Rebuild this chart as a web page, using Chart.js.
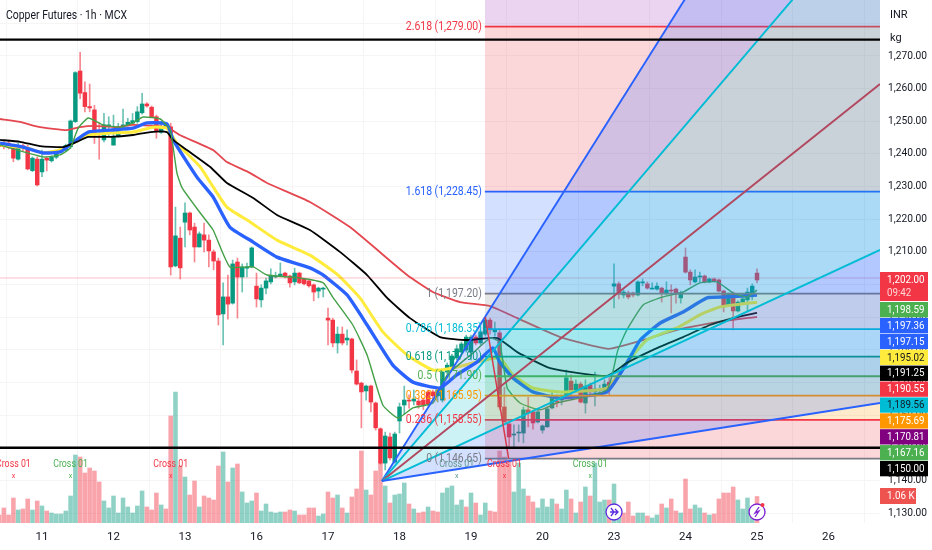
<!DOCTYPE html>
<html>
<head>
<meta charset="utf-8">
<title>Copper Futures</title>
<style>
  html, body { margin: 0; padding: 0; background: #fff; }
  canvas { display: block; filter: blur(.3px); }
</style>
<script src="https://cdn.jsdelivr.net/npm/chart.js@4"></script>
</head>
<body>
<canvas id="chart" width="932" height="550"></canvas>
<script>
// hourly bars, 15 per session
const opens = [1243.3,1243,1243.3,1242.4,1238.4,1242.5,1241.9,1234.9,1238.4,1234.5,
  1238.7,1237.9,1239,1240.6,1241.2,1242.2,1249.9,1265.4,1258.8,1254.5,
  1253.5,1246.3,1244.3,1248.6,1242.7,1245.3,1248.2,1248.9,1249.4,1249.9,
  1252.6,1255.3,1254.3,1251.4,1246.6,1248.3,1248.3,1205.7,1214.2,1219.1,
  1221.9,1217.6,1211.5,1215.2,1213.6,1210,1207.2,1191,1196.2,1194.3,
  1206.9,1202.3,1205,1205.4,1199.5,1195.3,1198.9,1200.8,1202.3,1202.6,
  1203.5,1202.6,1200.8,1203.5,1201.7,1201.1,1199.9,1198,1198.6,1189.7,
  1189.1,1182.1,1184.8,1183,1183.3,1173.5,1169.8,1167.4,1168.9,1163.7,
  1155.8,1145.3,1153.3,1145.6,1158.2,1163.1,1164.6,1164.3,1164.3,1164.6,
  1167.1,1167.1,1165.9,1164.6,1173.2,1174.7,1177.5,1179.3,1179.9,1179.3,
  1183.9,1182.1,1184.8,1189.1,1185.5,1185.2,1162.5,1157.3,1153.9,1154.5,
  1154.5,1161.6,1161,1157.9,1155.4,1156.4,1162.2,1164.3,1164.6,1166.2,
  1170.4,1167.7,1169.5,1163.7,1169.2,1167.1,1167.5,1167.7,1170.1,1199.5,
  1200.2,1196.8,1197.4,1197.4,1196.8,1200.5,1200.2,1198.6,1198.6,1198.9,
  1197.4,1198.3,1198.6,1195.9,1208.4,1203.8,1200.8,1202.3,1202.6,1200.8,
  1201.7,1201.4,1198,1193.7,1197.4,1191.9,1194.6,1195.3,1197.4,1203.5];
const highs = [1244,1243.8,1244,1243,1243.3,1243,1242.7,1239.1,1239.1,1241.2,
  1239.1,1239.4,1241.2,1241.9,1243,1250.4,1265.2,1271.1,1262.1,1261.4,
  1254.9,1249.5,1252.4,1251.4,1251.9,1249.4,1253.7,1250.9,1252.4,1254.5,
  1258.6,1255.7,1254.7,1251.9,1249.9,1249.6,1249.4,1223.7,1217.6,1225,
  1222.2,1218.8,1216.1,1218.8,1215.2,1210.6,1208.1,1200.5,1202.9,1207.5,
  1208.1,1206.3,1206.6,1211.5,1203.5,1199.9,1202,1204.8,1203.8,1206.6,
  1203.8,1202.9,1205,1203.8,1202,1201.4,1200.2,1199.2,1199.2,1192.8,
  1189.7,1187,1187,1186.1,1183.6,1176.9,1170.1,1169.2,1169.2,1164,
  1156.1,1154.8,1154.5,1154.8,1163.7,1168.9,1166.2,1167.7,1165.2,1165.2,
  1167.7,1167.7,1168.3,1173.8,1176,1178.7,1181.5,1182.4,1184.5,1184.5,
  1184.5,1186.1,1190,1189.7,1188.5,1186.1,1168.6,1157.3,1157,1157,
  1162.5,1165.5,1161.3,1161.6,1157,1162.2,1167.7,1166.2,1166.2,1173.8,
  1172.3,1170.8,1170.1,1170.8,1169.8,1173.2,1169.2,1170.8,1171.4,1206.3,
  1200.8,1198.3,1198,1197.7,1201.1,1201.7,1200.8,1200.5,1200.5,1199.2,
  1200.8,1199.9,1198.9,1198,1211.2,1204.5,1204.5,1203.8,1202.9,1202,
  1202,1201.7,1198.3,1197.4,1197.7,1195,1196.2,1198.9,1200.2,1204.8];
const lows = [1241.8,1241.5,1241.5,1237.6,1238.1,1241,1235.1,1234.6,1230.2,1233,
  1234.8,1237.5,1238.5,1240.3,1240.9,1241.7,1249.6,1256.9,1252.9,1252.9,
  1243.2,1238.4,1243.7,1245.3,1242.7,1245.1,1247.8,1248.6,1249.2,1249.4,
  1252.2,1254.3,1251.2,1244.8,1246.3,1247.9,1202.9,1205.4,1201.7,1211.5,
  1215.2,1206.9,1211.5,1210,1205.4,1204.5,1187.6,1181.5,1189.4,1194,
  1189.7,1197.7,1202.3,1205.1,1193.1,1193.1,1197.1,1200.2,1202,1202.3,
  1202,1199.2,1199.9,1200.3,1199.9,1199.2,1195,1195.9,1196.2,1181.5,
  1180.9,1179,1181.5,1181.5,1172.9,1169.2,1156.1,1164.6,1161,1155.4,
  1145,1143.2,1146.3,1145.3,1154.5,1160.3,1162.1,1163.1,1162.1,1161.6,
  1162.8,1164.6,1164,1164,1172.6,1174.4,1176.9,1179,1179.3,1176.9,
  1181.5,1181.5,1184.2,1184.8,1184.2,1161.6,1157.9,1150.2,1150.2,1151.8,
  1151.5,1156.4,1155.7,1157.6,1154.5,1156.2,1161.9,1162.5,1163.1,1165.5,
  1165.9,1167.1,1163.7,1160.6,1166.2,1162.8,1166.2,1167.1,1166.2,1192.8,
  1195.6,1195.9,1195.6,1196.2,1196.5,1199.6,1198.6,1198.6,1198.3,1194.6,
  1196.8,1191.3,1194.3,1194.3,1203.5,1199.9,1200.5,1200.8,1200.5,1200.5,
  1200.8,1197.7,1191.6,1193.4,1186.1,1191.6,1194.3,1191.9,1195.3,1200.5];
const closes = [1242.2,1242.2,1242,1238.7,1242.4,1241.7,1235.4,1238.7,1230.5,1238.4,
  1238.1,1239,1240.7,1241.5,1242.6,1250.1,1264.9,1258.6,1254.5,1254.1,
  1245.8,1245.8,1248.9,1248.9,1245.1,1248.3,1248.9,1249.7,1250.2,1252.9,
  1255.3,1254.7,1251.4,1246.8,1247.8,1248.9,1205.4,1214.9,1205.1,1221.9,
  1216.7,1211.5,1215.5,1213.6,1210.3,1207.2,1190.7,1196.2,1194,1206.3,
  1202.3,1205.4,1205.4,1211.2,1195.6,1198.9,1201.1,1202.6,1202.6,1203.2,
  1202.6,1200.5,1203.5,1200.5,1200.2,1199.6,1197.7,1198.9,1198.9,1189.1,
  1182.1,1184.8,1182.1,1183.6,1173.8,1169.5,1167.1,1168.9,1164,1156.1,
  1145.3,1153.6,1146.9,1154.2,1162.5,1164.6,1164.3,1164.9,1163.1,1163.1,
  1163.4,1165.9,1167.7,1173.2,1175.3,1178.1,1180.3,1181.8,1183.9,1183.9,
  1182.1,1185.5,1189.1,1186.1,1186.1,1162.5,1157.9,1153.3,1154.2,1154.8,
  1161.6,1160.7,1157.6,1161,1156.7,1161.9,1165.2,1164,1165.5,1171.4,
  1167.7,1169.5,1164,1168.9,1167.1,1168,1167.8,1169.5,1168.6,1200.2,
  1197.1,1197.7,1196.2,1196.8,1200.8,1200.8,1198.9,1198.9,1199.5,1197.4,
  1198.3,1198,1197.1,1197.4,1203.8,1201.4,1202.3,1202.6,1200.8,1201.7,
  1201.1,1198,1193.4,1197.1,1191.9,1194.6,1195.6,1197.7,1199.5,1201.4];
const volumes = [320,600,320,1000,520,560,960,520,880,680,
  480,400,360,360,480,1080,2720,2640,2000,2200,
  2080,1640,880,600,1080,400,1000,640,400,680,
  1280,640,520,1200,720,560,4280,5240,2280,1840,
  1120,1680,640,1080,1000,920,2280,2840,1640,2200,
  2360,1240,800,880,1200,480,760,440,400,440,
  440,520,480,320,320,600,600,280,360,1240,
  1000,1120,600,400,1040,1360,2880,1320,1120,2080,
  2400,1480,800,1120,1160,1600,760,560,400,440,
  640,480,440,1200,1400,1480,720,920,640,1200,
  800,320,800,480,440,2880,2640,2480,1240,2400,
  1360,1080,840,600,960,640,960,760,560,1320,
  960,400,840,1440,1080,2400,840,920,920,1560,
  520,400,840,280,400,400,280,200,320,760,
  600,960,480,400,1760,560,720,600,400,320,
  360,960,1200,1200,1440,920,560,1000,400,1060];
const volumeFalling = [1,1,1,1,0,1,1,0,1,0, 1,0,0,0,0,0,0,1,1,1, 1,1,0,0,0,0,0,0,0,0, 0,1,1,1,0,1,1,0,1,0,
  1,1,0,1,1,1,1,0,1,0, 1,0,0,0,1,0,0,0,0,0, 1,1,0,1,1,1,1,0,0,1, 1,0,1,0,1,1,1,0,1,1,
  1,0,1,0,0,0,1,0,1,1, 0,1,1,0,0,0,0,0,1,0, 1,0,0,1,1,1,1,1,0,0, 0,1,1,0,0,0,0,1,0,0,
  1,0,1,0,1,0,0,0,1,0, 0,1,1,1,0,0,1,0,0,1, 0,1,1,0,1,1,0,0,1,0, 1,1,1,1,1,0,0,0,0,1];

// moving averages, read at their bends
const greenBars = [0.2,9.2,12.8,14.9,16.6,18.7,21.8,25.4,28.1,30.2,33.8,35.9,37.3,38.4,42.2,44.9,48.4,53.3,56.2,63.1,68,70.1,74.2,77.2,80.5,83.7,86.8,91,94,99.4,103,105,106.6,109.3,113.5,117,127.5,129.8,131.7,135.1,139.3,143.5,147,150.6,154,156.9,159];
const greenVals = [1242.7,1239.1,1239.7,1241.8,1247.9,1251,1248.9,1248.2,1249.5,1251.3,1250.7,1247.3,1234.2,1229.6,1221.9,1216.7,1205.4,1205.4,1202.9,1202,1200.5,1195.9,1187.6,1178.4,1163.1,1159.1,1162.2,1163.7,1172.3,1179,1183.6,1182.4,1168.3,1163.7,1161.6,1163.7,1167.7,1179.9,1186.1,1193.7,1196.2,1197.7,1200.5,1200.8,1197.4,1196.2,1198.3];
const blueBars = [0.2,5,9.2,12.8,15.3,18.7,23.3,28.1,31,35.2,36.5,41.5,44.9,48.4,53.3,58.3,65.2,68,73,77.2,82.6,86.8,92.5,96,100.3,103.6,105,107.8,112,117.7,127.5,131.7,134.5,138.7,143.5,148.5,152.7,159];
const blueVals = [1243.3,1242.1,1240.3,1240.6,1243.3,1246.7,1247.3,1247.9,1249.5,1249.2,1244.3,1232.9,1226.8,1217.6,1213,1208.4,1205.1,1202.9,1196.8,1187.6,1175.3,1170.1,1168.3,1172.3,1176.3,1180.6,1176.3,1171.4,1167.1,1165.2,1167.1,1176,1183,1188.2,1191.6,1195.9,1196.2,1196.8];
const yellowBars = [0.2,5.9,9.2,12.8,15.5,18.7,23.3,28.1,32.3,35.2,37.3,42.2,44.9,47.8,52.6,58.3,65.2,71.1,75.7,80.5,85.6,91,95.2,100.3,105,107.8,112,117.7,127.5,131.7,135.9,142.2,147,151.2,159];
const yellowVals = [1242.7,1241.8,1240.3,1241.2,1243.3,1245.8,1246.4,1246.7,1248.2,1247.9,1243.3,1236,1229.9,1223.7,1219.2,1213.6,1209,1202.9,1195.9,1185.5,1178.4,1173.8,1174.4,1176.3,1177.5,1172.3,1168.3,1167.1,1168.3,1176,1183,1186.7,1190.7,1193.1,1194.6];
const blackBars = [0.2,4.4,8.6,13.4,16.3,18.7,23.3,28.1,31.7,35.2,36.5,39.4,44.3,47.8,53.3,58.3,65.2,71.5,77.2,81.4,86.2,92.5,98.2,104.5,108.7,115.6,127.5,131.7,137.2,143.5,149.1,154,159];
const blackVals = [1244.3,1243.7,1242.4,1242.1,1243.7,1245.2,1245.2,1245.8,1246.7,1246.7,1244.3,1241.2,1236,1231.1,1226.5,1221.3,1216.7,1210,1202.9,1195.9,1189.7,1183.9,1183,1183.6,1179.3,1174.4,1172,1176,1180,1183.9,1187.6,1189.7,1191.3];
const redBars = [0.2,4.4,8.6,14.2,17,19.7,24.7,28.1,35.2,37.9,44.9,47.8,52.6,56.2,65.2,73.6,85.6,91,96.7,103,108.7,117.7,127.8,135.1,142.2,150.6,159];
const redVals = [1250.7,1249.8,1248.2,1247.3,1248.2,1248.6,1248.2,1248.9,1248.2,1245.8,1241.2,1237.5,1234.2,1231.1,1225.3,1217.6,1202.9,1197.7,1194.6,1193.4,1189.7,1183.9,1180.3,1183,1186.1,1188.5,1190.1];

// fib retracement, bottom to top
const fibRatios = ['0','0.236','0.382','0.5','0.618','0.786','1','1.618','2.618','3.618'];
const fibPrices = [1146.65,1158.55,1165.95,1171.9,1177.9,1186.35,1197.2,1228.45,1279,1329.55];
const fibColors = ['120,123,134','242,54,69','255,152,0','76,175,80','8,153,129','0,188,212','120,123,134','41,98,255','242,54,69','156,39,176'];
const fibStartBar = 101.9;
const fibTrendBars = [102, 106.9];
const fibTrendVals = [1190, 1146.65];

// speed fan, all rays start at the same pivot
const fanPivotBar = 80.3;
const fanPivotPrice = 1139.8;
const fanEndPrices = [1382.4, 1318.7, 1261.4, 1210.6, 1163.7];
const fanColors = ['41,98,255','0,188,212','178,72,96','0,188,212','41,98,255'];

const blackLevels = [1275, 1150];
const lastPrice = 1202;

const dayTicks = ['11','12','13','16','17','18','19','20','23','24','25','26'];
const dayTickBars = [9,24,39,54,69,84,99,114,129,144,159,174];
const priceTicks = [1130,1140,1150,1160,1170,1180,1190,1200,1210,1220,1230,1240,1250,1260,1270,1280];

const crossBars = [3,15,36,96,106,124];
const crossColors = ['#f23645','#4caf50','#f23645','#5f9a92','#f23645','#4caf50'];

const tagRows = ['1,198.59','1,197.36','1,197.15','1,195.02','1,191.25','1,190.55','1,189.56','1,175.69','1,170.81','1,167.16','1,150.00'];
const tagColors = ['#4caf50','#2962ff','#2962ff','#ffeb3b','#000000','#f23645','#00bcd4','#ff9800','#800080','#4caf50','#000000'];
const tagInk = ['#fff','#fff','#fff','#131722','#fff','#fff','#131722','#fff','#fff','#fff','#fff'];

const FONT = 'Roboto, sans-serif';
const xMin = 0.19, xMax = 184.8;
const lastBar = 184.8;

const bars = opens.map((_, i) => i);
const pairs = (xs, ys) => xs.map((x, i) => ({ x, y: ys[i] }));
const rising = i => closes[i] >= opens[i];

const datasets = [];

datasets.push({
  type: 'bar', yAxisID: 'yVol', order: 40, grouped: false, barThickness: 3.9,
  data: bars.map(i => ({ x: i, y: volumes[i] })),
  backgroundColor: bars.map(i => volumeFalling[i] ? 'rgba(242,54,69,.45)' : 'rgba(8,153,129,.45)')
});
datasets.push({
  type: 'bar', order: 38, grouped: false, barThickness: 1,
  data: bars.map(i => ({ x: i, y: [lows[i], highs[i]] })),
  backgroundColor: bars.map(i => rising(i) ? 'rgba(8,153,129,.6)' : 'rgba(242,54,69,.6)')
});
datasets.push({
  type: 'bar', order: 37, grouped: false, barThickness: 3.8, minBarLength: 1,
  data: bars.map(i => ({ x: i, y: [opens[i], closes[i]] })),
  backgroundColor: bars.map(i => rising(i) ? '#089981' : '#f23645')
});

function line(xs, ys, color, width, order, extra) {
  return Object.assign({
    type: 'line', data: pairs(xs, ys), borderColor: color, borderWidth: width,
    pointRadius: 0, fill: false, tension: 0, order
  }, extra);
}

const smooth = { tension: 0.15 };
datasets.push(line(redBars, redVals, '#e4474f', 1.8, 34, smooth));
datasets.push(line(yellowBars, yellowVals, '#ffeb3b', 3, 33, smooth));
datasets.push(line(blueBars, blueVals, '#2962ff', 3.4, 32, smooth));
datasets.push(line(blackBars, blackVals, '#000000', 1.8, 31, smooth));
datasets.push(line(greenBars, greenVals, '#43a047', 1.4, 30, smooth));
datasets.push(line([xMin, xMax], [lastPrice, lastPrice], 'rgba(242,54,69,.3)', 1, 29));

// fan: blue, cyan, blue wedges
const fanFirst = datasets.length;
const fanFill = [
  { target: fanFirst + 1, color: 'rgba(41,98,255,.2)' },
  { target: fanFirst + 3, color: 'rgba(0,188,212,.2)' },
  null,
  { target: fanFirst + 4, color: 'rgba(41,98,255,.2)' },
  null
];
fanEndPrices.forEach((p, i) => {
  const f = fanFill[i];
  datasets.push(line([fanPivotBar, lastBar], [fanPivotPrice, p], `rgb(${fanColors[i]})`, 1.9, 20 - i, {
    fill: f ? { target: f.target, above: f.color, below: f.color } : false
  }));
});

// fib bands take the colour of the level above them
const fibFirst = datasets.length;
fibPrices.forEach((p, i) => {
  const next = fibColors[i + 1];
  const band = next ? `rgba(${next},.2)` : 'transparent';
  datasets.push(line([fibStartBar, lastBar], [p, p], `rgb(${fibColors[i]})`, i === fibPrices.length - 1 ? 0 : 1.8, 28 - i, {
    fill: next ? { target: fibFirst + i + 1, above: band, below: band } : false
  }));
});
datasets.push(line(fibTrendBars, fibTrendVals, '#d8394c', 1.5, 15));

blackLevels.forEach(p => {
  datasets.push(line([xMin, xMax], [p, p], '#000000', 2.4, 5));
});

const money = v => v.toLocaleString('en-US', { minimumFractionDigits: 2, maximumFractionDigits: 2 });

// the original face runs narrower than Roboto, so squeeze the width a little
function narrowText(ctx, str, x, y, squeeze) {
  ctx.fillText(str, x, y, ctx.measureText(str).width * squeeze);
}

const overlay = {
  id: 'overlay',
  afterDatasetsDraw(chart) {
    const { ctx, scales } = chart;
    ctx.save();
    ctx.textBaseline = 'middle';

    // fib labels sit left of the retracement box
    ctx.textAlign = 'right';
    ctx.font = '12px ' + FONT;
    fibRatios.forEach((r, i) => {
      if (i === fibRatios.length - 1) return;
      ctx.fillStyle = `rgb(${fibColors[i]})`;
      narrowText(ctx, `${r} (${money(fibPrices[i])})`, scales.x.getPixelForValue(fibStartBar) - 3, scales.y.getPixelForValue(fibPrices[i]), 0.87);
    });

    // cross signals
    ctx.textAlign = 'center';
    crossBars.forEach((b, i) => {
      const x = scales.x.getPixelForValue(b);
      ctx.fillStyle = crossColors[i];
      ctx.font = '11px ' + FONT;
      narrowText(ctx, 'Cross 01', x, 464, 0.8);
      ctx.font = '7px ' + FONT;
      ctx.fillText('x', x, 476);
    });

    // session markers
    [[129, '#5b2be0'], [159, '#7b1fd0']].forEach(([b, c], k) => {
      const x = scales.x.getPixelForValue(b), y = 512;
      ctx.beginPath();
      ctx.arc(x, y, 8, 0, Math.PI * 2);
      ctx.fillStyle = '#fff';
      ctx.fill();
      ctx.lineWidth = 1.3;
      ctx.strokeStyle = c;
      ctx.stroke();
      ctx.beginPath();
      if (k === 0) {
        ctx.moveTo(x - 4, y); ctx.lineTo(x + 4, y);
        ctx.moveTo(x + 1, y - 3); ctx.lineTo(x + 4, y); ctx.lineTo(x + 1, y + 3);
        ctx.moveTo(x - 3, y - 4); ctx.lineTo(x, y); ctx.lineTo(x - 3, y + 4);
      } else {
        ctx.moveTo(x + 2, y - 5); ctx.lineTo(x - 2, y + 1); ctx.lineTo(x + 2, y - 1); ctx.lineTo(x - 2, y + 5);
      }
      ctx.stroke();
      if (k === 1) {
        ctx.beginPath();
        ctx.arc(x + 5.5, y - 7, 2, 0, Math.PI * 2);
        ctx.fillStyle = '#f23645';
        ctx.fill();
      }
    });
    ctx.restore();
  },
  afterDraw(chart) {
    const { ctx } = chart;
    ctx.save();
    ctx.textBaseline = 'middle';
    ctx.textAlign = 'left';

    ctx.font = '12px ' + FONT;
    ctx.fillStyle = '#131722';
    narrowText(ctx, 'Copper Futures · 1h · MCX', 6, 16, 0.87);

    ctx.fillStyle = '#fff';
    ctx.fillRect(884, 3, 44, 46);
    ctx.fillStyle = '#131722';
    ctx.font = '11px ' + FONT;
    ctx.fillText('INR', 890, 15);
    ctx.fillText('kg', 890, 38);

    // price tags
    ctx.font = '11.5px ' + FONT;
    ctx.fillStyle = '#f23645';
    ctx.fillRect(880, 272, 48, 29);
    ctx.fillStyle = '#fff';
    narrowText(ctx, money(closes[closes.length - 1] + 0.6), 887, 280, 0.85);
    ctx.fillStyle = '#ffd5d8';
    narrowText(ctx, '09:42', 887, 293, 0.85);

    const top = 302, rowH = 15.9;
    tagRows.forEach((t, i) => {
      const y = top + i * rowH;
      ctx.fillStyle = tagColors[i];
      ctx.fillRect(880, y, 48, rowH - 0.6);
      ctx.fillStyle = tagInk[i];
      narrowText(ctx, t, 887, y + rowH / 2, 0.85);
    });

    ctx.fillStyle = '#ef5350';
    ctx.fillRect(880, 488, 36, 16);
    ctx.fillStyle = '#fff';
    narrowText(ctx, '1.06 K', 887, 496, 0.85);
    ctx.restore();
  }
};

new Chart(document.getElementById('chart'), {
  data: { datasets },
  plugins: [overlay],
  options: {
    responsive: false,
    animation: false,
    devicePixelRatio: 1,
    layout: { padding: 0 },
    plugins: { legend: { display: false }, tooltip: { enabled: false }, title: { display: false } },
    scales: {
      x: {
        type: 'linear', min: xMin, max: xMax, offset: false,
        grid: { color: '#f5f5f6', drawTicks: false },
        border: { display: false },
        afterBuildTicks: s => { s.ticks = dayTickBars.map(value => ({ value })); },
        afterFit: s => { s.height = 27; s.paddingLeft = 0; s.paddingRight = 0; },
        ticks: {
          autoSkip: false, maxRotation: 0, padding: 7, color: '#131722',
          font: { family: FONT, size: 11.5 },
          callback: v => dayTicks[dayTickBars.indexOf(v)]
        }
      },
      y: {
        position: 'right', min: 1126.95, max: 1287.15,
        grid: { color: '#f5f5f6', drawTicks: false },
        border: { display: false },
        afterBuildTicks: s => { s.ticks = priceTicks.map(value => ({ value })); },
        afterFit: s => { s.width = 52; s.paddingTop = 0; s.paddingBottom = 0; },
        ticks: {
          padding: 8, color: '#131722',
          font: { family: FONT, size: 10.2 },
          callback: v => money(v)
        }
      },
      yVol: { display: false, min: 0, max: 20920, afterFit: s => { s.paddingTop = 0; s.paddingBottom = 0; } }
    }
  }
});
</script>
</body>
</html>
